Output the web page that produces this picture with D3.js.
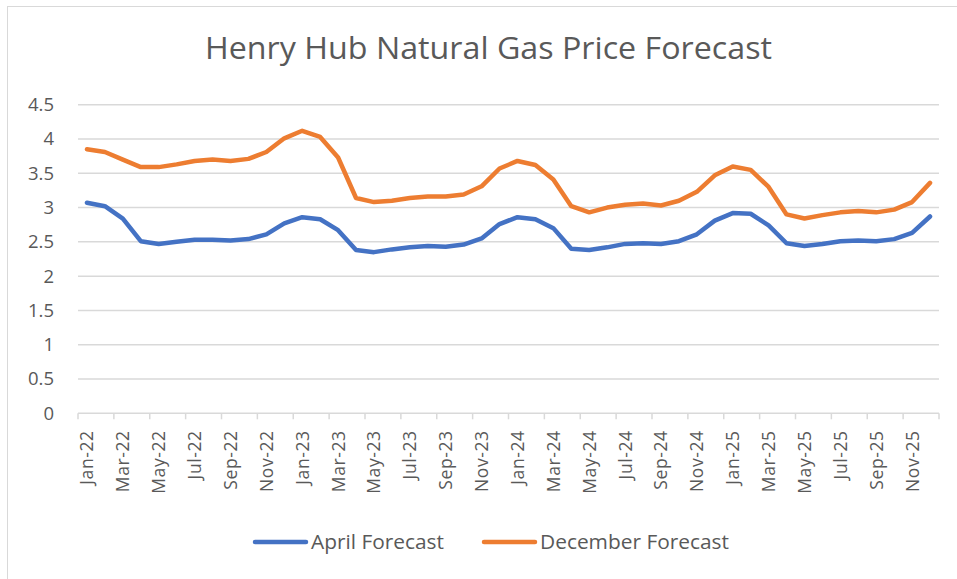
<!DOCTYPE html>
<html>
<head>
<meta charset="utf-8">
<script src="https://cdn.jsdelivr.net/npm/d3@7"></script>
<style>
  body { margin: 0; background: #fff; }
  svg { display: block; }
  text { font-family: "Open Sans", "Liberation Sans", sans-serif; fill: #595959; }
</style>
</head>
<body>
<svg id="chart" width="957" height="579"></svg>
<script>
"use strict";

const years = ["22", "23", "24", "25"];
const monthNames = ["Jan", "Feb", "Mar", "Apr", "May", "Jun", "Jul", "Aug", "Sep", "Oct", "Nov", "Dec"];
const months = years.flatMap((y) => monthNames.map((m) => `${m}-${y}`));

const aprilForecast = [
  3.07, 3.02, 2.84, 2.51, 2.47, 2.50, 2.53, 2.53, 2.52, 2.54, 2.61, 2.77,
  2.86, 2.83, 2.67, 2.38, 2.35, 2.39, 2.42, 2.44, 2.43, 2.46, 2.55, 2.76,
  2.86, 2.83, 2.70, 2.40, 2.38, 2.42, 2.47, 2.48, 2.47, 2.51, 2.61, 2.81,
  2.92, 2.91, 2.74, 2.48, 2.44, 2.47, 2.51, 2.52, 2.51, 2.54, 2.63, 2.87,
];

const decemberForecast = [
  3.85, 3.81, 3.70, 3.59, 3.59, 3.63, 3.68, 3.70, 3.68, 3.71, 3.81, 4.01,
  4.12, 4.03, 3.73, 3.14, 3.08, 3.10, 3.14, 3.16, 3.16, 3.19, 3.31, 3.57,
  3.68, 3.62, 3.41, 3.02, 2.93, 3.00, 3.04, 3.06, 3.03, 3.10, 3.23, 3.47,
  3.60, 3.55, 3.30, 2.90, 2.84, 2.89, 2.93, 2.95, 2.93, 2.97, 3.08, 3.36,
];

const yTicks = [0, 0.5, 1, 1.5, 2, 2.5, 3, 3.5, 4, 4.5];

const series = [
  { name: "April Forecast", values: aprilForecast, color: "#4472C4" },
  { name: "December Forecast", values: decemberForecast, color: "#ED7D31" },
];

const svg = d3.select("#chart");

// chart area border
svg.append("rect")
  .attr("x", 7.5).attr("y", 6.5)
  .attr("width", 1000).attr("height", 1000)
  .attr("fill", "none")
  .attr("stroke", "#d9d9d9")
  .attr("stroke-width", 1);

const plot = { left: 78, right: 939, top: 104.7, bottom: 413.3 };

const x = d3.scaleBand()
  .domain(months)
  .range([plot.left, plot.right]);

const y = d3.scaleLinear()
  .domain([0, 4.5])
  .range([plot.bottom, plot.top]);

// title
svg.append("text")
  .attr("x", 488.5)
  .attr("y", 59)
  .attr("text-anchor", "middle")
  .attr("font-size", 31)
  .attr("textLength", 567)
  .attr("lengthAdjust", "spacingAndGlyphs")
  .text("Henry Hub Natural Gas Price Forecast");

// gridlines
svg.append("g")
  .selectAll("line")
  .data(yTicks.filter((d) => d > 0))
  .join("line")
  .attr("x1", plot.left)
  .attr("x2", plot.right)
  .attr("y1", (d) => y(d))
  .attr("y2", (d) => y(d))
  .attr("stroke", "#d9d9d9")
  .attr("stroke-width", 1.5);

// y axis labels
const yAxis = svg.append("g")
  .attr("transform", `translate(${plot.left - 24},0)`)
  .call(d3.axisLeft(y).tickValues(yTicks).tickSize(0).tickPadding(0).tickFormat(d3.format("")));
yAxis.select(".domain").remove();
yAxis.selectAll("text")
  .attr("font-size", 18.5)
  .attr("fill", "#595959")
  .style("font-family", '"Open Sans", sans-serif');

// x axis
const tickMonths = months.filter((d, i) => i % 2 === 0);
const xAxisG = svg.append("g").attr("transform", `translate(0,${plot.bottom})`);

xAxisG.append("line")
  .attr("x1", plot.left).attr("x2", plot.right)
  .attr("y1", 0).attr("y2", 0)
  .attr("stroke", "#d9d9d9")
  .attr("stroke-width", 1.5);

xAxisG.selectAll(".tick-mark")
  .data(tickMonths.concat(["end"]))
  .join("line")
  .attr("class", "tick-mark")
  .attr("x1", (d) => (d === "end" ? plot.right : x(d)))
  .attr("x2", (d) => (d === "end" ? plot.right : x(d)))
  .attr("y1", 0).attr("y2", 6)
  .attr("stroke", "#d9d9d9")
  .attr("stroke-width", 1.5);

xAxisG.selectAll(".tick-label")
  .data(tickMonths)
  .join("text")
  .attr("class", "tick-label")
  .attr("transform", (d) => `translate(${x(d) + x.bandwidth() / 2 + 6.5},17) rotate(-90)`)
  .attr("text-anchor", "end")
  .attr("font-size", 17.5)
  .attr("letter-spacing", 0.6)
  .text((d) => d);

// lines
const line = d3.line()
  .x((d, i) => x(months[i]) + x.bandwidth() / 2)
  .y((d) => y(d));

svg.append("g")
  .selectAll("path")
  .data(series)
  .join("path")
  .attr("d", (d) => line(d.values))
  .attr("fill", "none")
  .attr("stroke", (d) => d.color)
  .attr("stroke-width", 4.5)
  .attr("stroke-linejoin", "round")
  .attr("stroke-linecap", "round");

// legend
const legendPos = [253, 482];
const legend = svg.append("g")
  .selectAll("g")
  .data(series)
  .join("g")
  .attr("transform", (d, i) => `translate(${legendPos[i]},542)`);

legend.append("line")
  .attr("x1", 2).attr("x2", 53)
  .attr("stroke", (d) => d.color)
  .attr("stroke-width", 4.5)
  .attr("stroke-linecap", "round");

legend.append("text")
  .attr("x", 58)
  .attr("y", 7)
  .attr("font-size", 20)
  .attr("textLength", (d, i) => (i === 0 ? 133 : 189))
  .attr("lengthAdjust", "spacingAndGlyphs")
  .text((d) => d.name);
</script>
</body>
</html>
